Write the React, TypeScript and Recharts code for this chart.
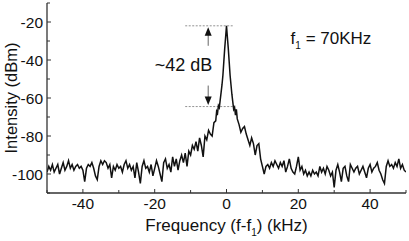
import { LineChart, Line, XAxis, YAxis, ReferenceLine, ReferenceDot } from "recharts"

// noise floor left of the carrier, -50 .. -3.5 kHz every 0.5 kHz
const leftStart = -50
const step = 0.5
const leftNoise = [
  -99, -96, -98, -95, -99, -97, -95, -100, -97, -94,
  -98, -96, -93, -97, -95, -98, -96, -95, -97, -96,
  -98, -104, -97, -95, -96, -94, -97, -101, -103, -96,
  -93, -95, -93, -94, -97, -95, -102, -96, -98, -95,
  -97, -96, -99, -95, -93, -97, -95, -98, -96, -102,
  -94, -99, -105, -96, -93, -97, -96, -99, -95, -101,
  -97, -93, -96, -100, -104, -94, -92, -97, -95, -99,
  -91, -96, -92, -98, -93, -90, -94, -89, -96, -88,
  -90, -85, -87, -83, -88, -81, -85, -91, -80, -82,
  -77, -79, -80, -73,
]

// carrier peak
const centreFreq = [
  -3, -2.75, -2.5, -2.25, -2, -1.75, -1.5, -1.25, -1, -0.75, -0.5, -0.25,
  0, 0.25, 0.5, 0.75, 1, 1.25, 1.5, 1.75, 2, 2.25, 2.5, 2.75, 3,
]
const centreLevel = [
  -72, -67, -68, -64, -65, -61, -57, -53, -48, -41, -34, -28,
  -22, -28, -34, -41, -48, -53, -58, -62, -66, -65, -69, -66, -71,
]

// noise floor right of the carrier, 3.5 .. 50 kHz every 0.5 kHz
const rightStart = 3.5
const rightNoise = [
  -74, -78, -76, -75, -79, -82, -85, -81, -84, -90,
  -85, -84, -92, -96, -100, -96, -95, -97, -94, -96,
  -93, -95, -97, -94, -96, -93, -99, -96, -92, -97,
  -99, -100, -96, -91, -98, -96, -100, -98, -101, -99,
  -101, -98, -100, -99, -101, -96, -99, -97, -100, -96,
  -98, -101, -99, -107, -98, -95, -99, -104, -97, -96,
  -101, -104, -95, -97, -99, -97, -96, -100, -98, -96,
  -99, -102, -97, -95, -99, -97, -96, -94, -98, -100,
  -103, -105, -96, -93, -96, -95, -97, -94, -96, -92,
  -97, -95, -98, -99,
]

const xTicks = [-50, -40, -30, -20, -10, 0, 10, 20, 30, 40, 50]
const xLabels = [-40, -20, 0, 20, 40]
const yTicks = [-110, -100, -90, -80, -70, -60, -50, -40, -30, -20, -10]
const yLabels = [-100, -80, -60, -40, -20]

const peakLevel = -22
const shoulderLevel = -64.5
const markFrom = -11.5
const markTo = 1.8
const arrowFreq = -5.1

const data = [
  ...leftNoise.map((v, i) => ({ f: leftStart + i * step, p: v })),
  ...centreFreq.map((f, i) => ({ f, p: centreLevel[i] })),
  ...rightNoise.map((v, i) => ({ f: rightStart + i * step, p: v })),
]

const font = "'Liberation Sans', Arial, sans-serif"
const frame = "#333"

const BottomTick = ({ x, y, payload }: any) => {
  const major = xLabels.includes(payload.value)
  return (
    <g>
      <line x1={x} x2={x} y1={y} y2={y - (major ? 4 : 3)} stroke={frame} />
      {major && (
        <text x={x} y={y + 16} textAnchor="middle" fontSize={15.5} fontFamily={font} fill="#111">
          {payload.value}
        </text>
      )}
    </g>
  )
}

const TopTick = ({ x, y, payload }: any) => {
  const major = xLabels.includes(payload.value)
  return <line x1={x} x2={x} y1={y} y2={y + (major ? 4 : 3)} stroke={frame} />
}

const LeftTick = ({ x, y, payload }: any) => {
  const major = yLabels.includes(payload.value)
  return (
    <g>
      <line x1={x} x2={x + (major ? 4 : 3)} y1={y} y2={y} stroke={frame} />
      {major && (
        <text x={x - 4} y={y + 5.5} textAnchor="end" fontSize={15.5} fontFamily={font} fill="#111">
          {payload.value}
        </text>
      )}
    </g>
  )
}

const RightTick = ({ x, y, payload }: any) => {
  const major = yLabels.includes(payload.value)
  return <line x1={x} x2={x - (major ? 4 : 3)} y1={y} y2={y} stroke={frame} />
}

const upArrow = ({ cx, cy }: any) => (
  <g>
    <line x1={cx} x2={cx} y1={cy + 9} y2={cy + 20} stroke="#666" strokeWidth={1} />
    <path d={`M${cx},${cy + 1.5} L${cx - 3.5},${cy + 10} L${cx + 3.5},${cy + 10} Z`} fill="#111" />
  </g>
)

const downArrow = ({ cx, cy }: any) => (
  <g>
    <line x1={cx} x2={cx} y1={cy - 9} y2={cy - 21} stroke="#666" strokeWidth={1} />
    <path d={`M${cx},${cy - 1.5} L${cx - 3.5},${cy - 10} L${cx + 3.5},${cy - 10} Z`} fill="#111" />
  </g>
)

const gapText = ({ cx, cy }: any) => (
  <text x={cx} y={cy + 6} textAnchor="middle" fontSize={18} fontFamily={font} fill="#111">
    ~42 dB
  </text>
)

const freqText = ({ cx, cy }: any) => (
  <text x={cx} y={cy + 6} textAnchor="middle" fontSize={17} fontFamily={font} fill="#111">
    f<tspan fontSize={10} dy={5}>1</tspan>
    <tspan dy={-5}> = 70KHz</tspan>
  </text>
)

const xTitle = ({ viewBox }: any) => (
  <text
    x={viewBox.x + viewBox.width / 2}
    y={viewBox.y + 38}
    textAnchor="middle"
    fontSize={17}
    fontFamily={font}
    fill="#111"
  >
    Frequency (f-f<tspan fontSize={10} dy={5}>1</tspan>
    <tspan dy={-5}>) (kHz)</tspan>
  </text>
)

const yTitle = ({ viewBox }: any) => {
  const cx = 13
  const cy = viewBox.y + viewBox.height / 2
  return (
    <text
      x={cx}
      y={cy}
      transform={`rotate(-90 ${cx} ${cy})`}
      textAnchor="middle"
      dominantBaseline="middle"
      fontSize={16.5}
      fontFamily={font}
      fill="#111"
    >
      Intensity (dBm)
    </text>
  )
}

export default function App() {
  return (
    <div style={{ position: "absolute", left: 0, top: 0, background: "#fff" }}>
      <LineChart width={409} height={241} data={data} margin={{ top: 3, right: 3, left: 0, bottom: 0 }}>
        <XAxis
          dataKey="f"
          type="number"
          domain={[-50, 50]}
          ticks={xTicks}
          allowDataOverflow
          height={48}
          tickSize={0}
          tickMargin={0}
          tickLine={false}
          axisLine={{ stroke: frame, strokeWidth: 1.3 }}
          tick={BottomTick}
          interval={0}
          label={xTitle}
        />
        <XAxis
          xAxisId="top"
          orientation="top"
          type="number"
          domain={[-50, 50]}
          ticks={xTicks}
          allowDataOverflow
          height={0}
          tickSize={0}
          tickMargin={0}
          tickLine={false}
          axisLine={{ stroke: frame, strokeWidth: 1.3 }}
          tick={TopTick}
          interval={0}
        />
        <YAxis
          type="number"
          domain={[-110, -10]}
          ticks={yTicks}
          allowDataOverflow
          width={47}
          tickSize={0}
          tickMargin={0}
          tickLine={false}
          axisLine={{ stroke: frame, strokeWidth: 1.3 }}
          tick={LeftTick}
          interval={0}
          label={yTitle}
        />
        <YAxis
          yAxisId="right"
          orientation="right"
          type="number"
          domain={[-110, -10]}
          ticks={yTicks}
          allowDataOverflow
          width={0}
          tickSize={0}
          tickMargin={0}
          tickLine={false}
          axisLine={{ stroke: frame, strokeWidth: 1.3 }}
          tick={RightTick}
          interval={0}
        />
        <ReferenceLine
          segment={[{ x: markFrom, y: peakLevel }, { x: markTo, y: peakLevel }]}
          stroke="#777"
          strokeWidth={0.8}
          strokeDasharray="2 1.5"
        />
        <ReferenceLine
          segment={[{ x: markFrom, y: shoulderLevel }, { x: markTo, y: shoulderLevel }]}
          stroke="#777"
          strokeWidth={0.8}
          strokeDasharray="2 1.5"
        />
        <Line
          dataKey="p"
          type="linear"
          stroke="#111"
          strokeWidth={1.5}
          dot={false}
          isAnimationActive={false}
        />
        <ReferenceDot x={arrowFreq} y={peakLevel} shape={upArrow} />
        <ReferenceDot x={arrowFreq} y={shoulderLevel} shape={downArrow} />
        <ReferenceDot x={-12} y={-42.6} shape={gapText} />
        <ReferenceDot x={29.1} y={-28.4} shape={freqText} />
      </LineChart>
    </div>
  )
}
